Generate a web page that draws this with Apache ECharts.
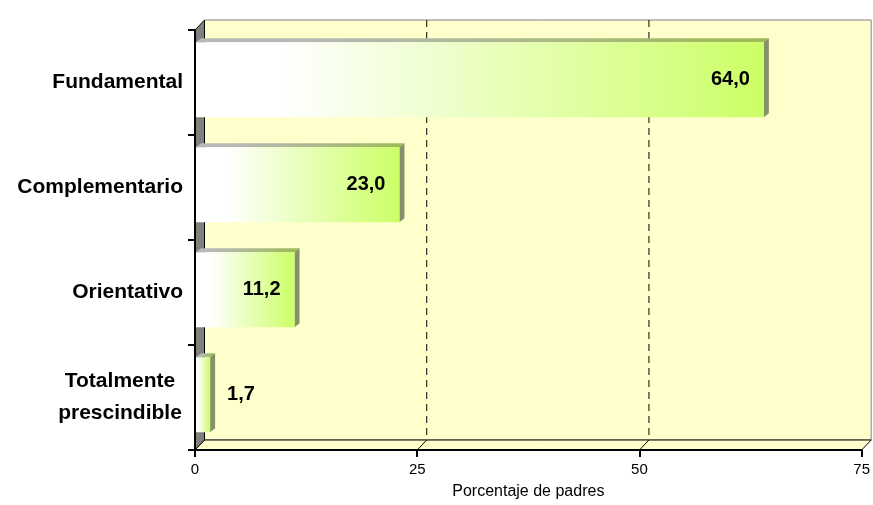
<!DOCTYPE html>
<html>
<head>
<meta charset="utf-8">
<script src="https://cdn.jsdelivr.net/npm/echarts@6/dist/echarts.min.js"></script>
<style>
html,body{margin:0;padding:0;background:#fff;}
#chart{width:873px;height:505px;}
</style>
</head>
<body>
<div id="chart"></div>
<script>
// ---- data (bottom-to-top order on the category axis) ----
const categories = ['Totalmente\nprescindible', 'Orientativo', 'Complementario', 'Fundamental'];
const values = [1.7, 11.2, 23.0, 64.0];
const xTicks = [0, 25, 50, 75];
const gridValues = [25, 50];
const axisTitle = 'Porcentaje de padres';

// ---- styling constants ----
const FONT = '"Liberation Sans", Arial, sans-serif';
const WALL_DX = 9.5, WALL_DY = 10;   // 3D wall depth
const BAR_DX = 5, BAR_DY = 4;        // 3D bar depth

const chart = echarts.init(document.getElementById('chart'), null, {renderer: 'canvas'});

function fmt(v) { return v.toFixed(1).replace('.', ','); }

function renderWalls(params, api) {
  const cs = params.coordSys;
  const gx = cs.x, gy = cs.y, gw = cs.width, gh = cs.height;
  const bottom = gy + gh;
  const children = [];
  // back wall
  children.push({type: 'rect', shape: {x: gx + WALL_DX, y: gy - WALL_DY, width: gw, height: gh},
    style: {fill: '#FFFFCC', stroke: '#808080', lineWidth: 1}});
  // floor
  children.push({type: 'polygon', shape: {points: [[gx, bottom], [gx + gw, bottom], [gx + gw + WALL_DX, bottom - WALL_DY], [gx + WALL_DX, bottom - WALL_DY]]},
    style: {fill: '#FFFFCC', stroke: '#000', lineWidth: 1}});
  // left wall
  children.push({type: 'polygon', shape: {points: [[gx, gy], [gx + WALL_DX, gy - WALL_DY], [gx + WALL_DX, bottom - WALL_DY], [gx, bottom]]},
    style: {fill: '#808080', stroke: '#000', lineWidth: 1}});
  // grid lines on back wall + floor diagonals
  gridValues.forEach(v => {
    const px = api.coord([v, 0])[0];
    children.push({type: 'line', shape: {x1: px + WALL_DX, y1: gy - WALL_DY, x2: px + WALL_DX, y2: bottom - WALL_DY},
      style: {stroke: '#000', lineWidth: 1, lineDash: [7, 5]}});
    children.push({type: 'line', shape: {x1: px, y1: bottom, x2: px + WALL_DX, y2: bottom - WALL_DY},
      style: {stroke: '#000', lineWidth: 1}});
  });
  return {type: 'group', children};
}

function renderBar(params, api) {
  const val = api.value(0);
  const cat = api.value(1);
  const p0 = api.coord([0, cat]);
  const p1 = api.coord([val, cat]);
  const band = api.size([0, 1])[1];
  const h = band * 0.716;
  const cy = p0[1] - band * 0.026;
  const y0 = cy - h / 2, y1 = cy + h / 2;
  const x0 = p0[0] + 1, x1 = p1[0];
  const children = [];
  // top face
  children.push({type: 'polygon', shape: {points: [[x0, y0], [x1, y0], [x1 + BAR_DX, y0 - BAR_DY], [x0 + BAR_DX, y0 - BAR_DY]]},
    style: {fill: new echarts.graphic.LinearGradient(0, 0, 1, 0, [
      {offset: 0, color: '#B8B8B8'}, {offset: 0.2, color: '#B8B8B8'}, {offset: 1, color: '#9CBB55'}])}});
  // side face
  children.push({type: 'polygon', shape: {points: [[x1, y0], [x1 + BAR_DX, y0 - BAR_DY], [x1 + BAR_DX, y1 - BAR_DY], [x1, y1]]},
    style: {fill: '#84916A'}});
  // front face
  children.push({type: 'rect', shape: {x: x0, y: y0, width: x1 - x0, height: h},
    style: {fill: new echarts.graphic.LinearGradient(0, 0, 1, 0, [
      {offset: 0, color: '#FFFFFF'}, {offset: 0.15, color: '#FFFFFF'}, {offset: 1, color: '#CCFF66'}])}});
  // value label
  const inside = (x1 - x0) > 70;
  children.push({type: 'text', z2: 10, style: {
    text: fmt(val), x: inside ? x1 - 14 : x1 + 17, y: cy,
    align: inside ? 'right' : 'left', verticalAlign: 'middle',
    font: 'bold 20px ' + FONT, fill: '#000'}});
  return {type: 'group', children};
}

const option = {
  animation: false,
  backgroundColor: '#FFFFFF',
  grid: {left: 195, right: 10, top: 30, bottom: 52, containLabel: false},
  xAxis: {
    type: 'value', min: xTicks[0], max: xTicks[xTicks.length - 1], interval: 25,
    name: axisTitle, nameLocation: 'middle', nameGap: 34,
    nameTextStyle: {fontFamily: FONT, fontSize: 16, color: '#000'},
    axisLine: {show: true, lineStyle: {color: '#000', width: 2}},
    axisTick: {show: true, length: 7, lineStyle: {color: '#000', width: 2}},
    axisLabel: {fontFamily: FONT, fontSize: 15, color: '#000', margin: 12},
    splitLine: {show: false}
  },
  yAxis: {
    type: 'category', data: categories,
    axisLine: {show: true, lineStyle: {color: '#000', width: 2}},
    axisTick: {show: true, length: 7, lineStyle: {color: '#000', width: 2}},
    axisLabel: {
      fontFamily: FONT, fontSize: 21, fontWeight: 'bold', color: '#000', margin: 12,
      lineHeight: 32,
      formatter: function (v) {
        if (v.indexOf('\n') < 0) return v;
        return v.split('\n').map(l => '{c|' + l + '}').join('\n');
      },
      rich: {c: {width: 126, align: 'center', fontFamily: FONT, fontSize: 21, fontWeight: 'bold', color: '#000', lineHeight: 32}}
    },
    splitLine: {show: false}
  },
  series: [
    {type: 'custom', name: 'walls', z: -1, silent: true, renderItem: renderWalls, data: [[0, 0]], encode: {x: 0, y: 1}},
    {type: 'custom', name: 'bars', z: 2, renderItem: renderBar,
      data: values.map((v, i) => [v, i]), encode: {x: 0, y: 1}}
  ]
};
chart.setOption(option);
</script>
</body>
</html>
